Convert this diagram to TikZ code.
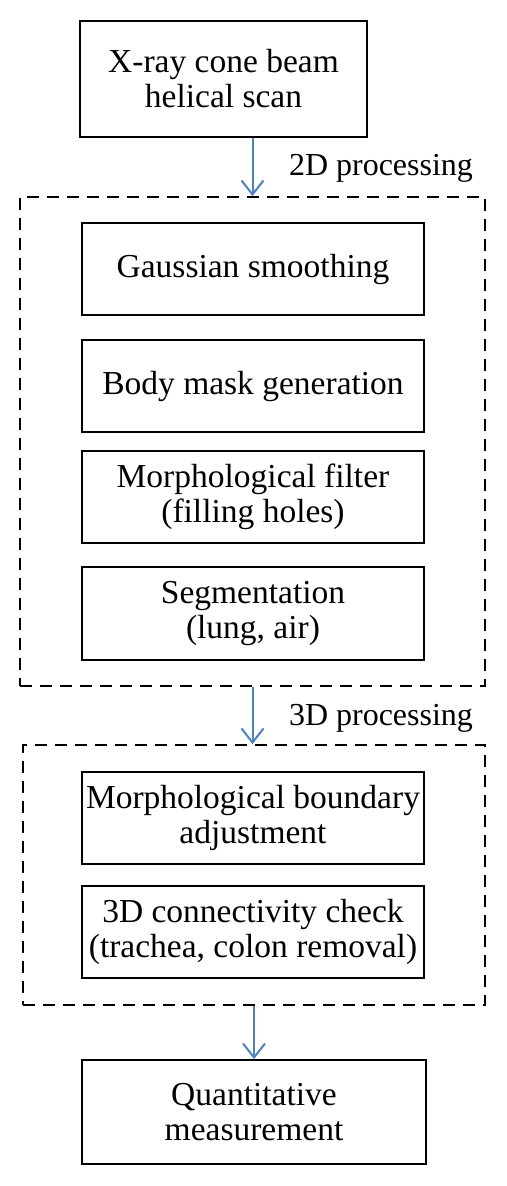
\documentclass[tikz,border=0pt]{standalone}
\usepackage{fontspec}
\setmainfont{Liberation Serif}
\usetikzlibrary{arrows.meta}
\definecolor{arrblue}{RGB}{79,129,189}
\begin{document}
\begin{tikzpicture}[x=1pt,y=-1pt,
  box/.style={draw=black,line width=1.8pt,inner sep=0pt,align=center,
    font=\fontsize{33.5}{35}\selectfont},
  dbox/.style={draw=black,line width=1.8pt,dash pattern=on 12pt off 8pt,inner sep=0pt},
  arr/.style={draw=arrblue,line width=2pt,-{Straight Barb[length=14pt,width=22pt,line width=2pt]}},
  lbl/.style={inner sep=0pt,font=\fontsize{32}{35}\selectfont}]
\useasboundingbox[fill=white] (0,0) rectangle (506,1186);
\node[box,minimum width=287pt,minimum height=116pt] (top) at (223.5,79) {X-ray cone beam\\helical scan};
\node[dbox,minimum width=465pt,minimum height=489pt] (d1) at (252.5,441.5) {};
\node[box,minimum width=342pt,minimum height=92pt] (g) at (253,269) {Gaussian smoothing};
\node[box,minimum width=342pt,minimum height=92pt] (b) at (253,386) {Body mask generation};
\node[box,minimum width=342pt,minimum height=92pt] (m) at (253,497) {Morphological filter\\(filling holes)};
\node[box,minimum width=342pt,minimum height=93pt] (s) at (253,613.5) {Segmentation\\(lung, air)};
\node[dbox,minimum width=462pt,minimum height=260pt] (d2) at (254,875) {};
\node[box,minimum width=342pt,minimum height=92pt] (mb) at (253,818) {Morphological boundary\\adjustment};
\node[box,minimum width=342pt,minimum height=92pt] (c) at (253,932) {3D connectivity check\\(trachea, colon removal)};
\node[box,minimum width=344pt,minimum height=104pt] (q) at (254,1112) {Quantitative\\measurement};
\node[lbl] (l2d) at (381,168) {2D processing};
\node[lbl] (l3d) at (381,718) {3D processing};
\draw[arr] (top.south -| d1.north) -- (d1.north);
\draw[arr] (d1.south) -- (d1.south |- d2.north);
\draw[arr] (d2.south) -- (d2.south |- q.north);
\end{tikzpicture}
\end{document}
